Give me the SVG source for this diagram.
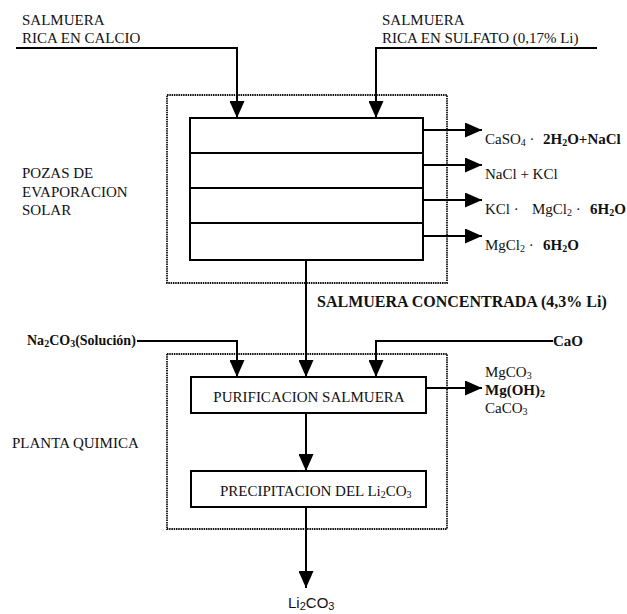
<svg xmlns="http://www.w3.org/2000/svg" width="627" height="614" viewBox="0 0 627 614">
<style>
text{font-family:"Liberation Serif","Times New Roman",serif;font-size:15px;fill:#111}
.b{font-weight:bold}
.sub{font-size:10px;baseline-shift:-20%}
.sans{font-family:"Liberation Sans",Arial,sans-serif}
.ln{fill:none;stroke:#000;stroke-width:2}
.box{fill:#fff;stroke:#000;stroke-width:2}
.dot{fill:none;stroke:#111;stroke-width:1.8;stroke-dasharray:1.5 0.8}
</style>
<defs>
<marker id="ah" markerUnits="userSpaceOnUse" markerWidth="17" markerHeight="15" refX="17" refY="7.5" orient="auto">
<path d="M0,0 L17,7.5 L0,15 z" fill="#000"/>
</marker>
</defs>

<g id="area-pozas">
<rect class="dot" x="167" y="95" width="280" height="188"/>
<text x="22" y="178">POZAS DE</text>
<text x="22" y="197">EVAPORACION</text>
<text x="22" y="215">SOLAR</text>
</g>
<g id="area-planta">
<rect class="dot" x="167" y="354" width="280" height="175"/>
<text x="12" y="448">PLANTA QUIMICA</text>
</g>

<g id="input-calcio">
<text x="22" y="25">SALMUERA</text>
<text x="22" y="43">RICA EN CALCIO</text>
</g>
<g id="input-sulfato">
<text x="382" y="25">SALMUERA</text>
<text x="382" y="43">RICA EN SULFATO (0,17% Li)</text>
</g>

<g id="pozas">
<rect class="box" x="190" y="118" width="233" height="142"/>
<line class="ln" x1="190" y1="153" x2="423" y2="153"/>
<line class="ln" x1="190" y1="188" x2="423" y2="188"/>
<line class="ln" x1="190" y1="223" x2="423" y2="223"/>
</g>

<g id="out1"><text x="485" y="144">CaSO<tspan class="sub">4</tspan><tspan> · </tspan><tspan class="b" x="543">2H<tspan class="sub">2</tspan><tspan>O+NaCl</tspan></tspan></text></g>
<g id="out2"><text x="485" y="179">NaCl + KCl</text></g>
<g id="out3"><text x="485" y="214">KCl · <tspan x="532">MgCl</tspan><tspan class="sub">2</tspan><tspan> · </tspan><tspan class="b" x="590">6H<tspan class="sub">2</tspan><tspan>O</tspan></tspan></text></g>
<g id="out4"><text x="485" y="250">MgCl<tspan class="sub">2</tspan><tspan> · </tspan><tspan class="b" x="543">6H<tspan class="sub">2</tspan><tspan>O</tspan></tspan></text></g>

<g id="concentrada"><text class="b" x="317" y="307" style="font-size:16px">SALMUERA CONCENTRADA (4,3% Li)</text></g>

<g id="na2co3"><text class="b" x="27" y="345" style="font-size:14px">Na<tspan class="sub">2</tspan><tspan>CO</tspan><tspan class="sub">3</tspan><tspan>(Solución)</tspan></text></g>
<g id="cao"><text class="b" x="553" y="346">CaO</text></g>

<g id="purificacion">
<rect class="box" x="191" y="377" width="235" height="36"/>
<text x="309" y="402" text-anchor="middle">PURIFICACION SALMUERA</text>
</g>
<g id="residuos">
<text x="485" y="377">MgCO<tspan class="sub">3</tspan></text>
<text class="b" x="485" y="395">Mg(OH)<tspan class="sub">2</tspan></text>
<text x="485" y="413">CaCO<tspan class="sub">3</tspan></text>
</g>

<g id="precipitacion">
<rect class="box" x="191" y="471" width="235" height="36"/>
<text x="220" y="496">PRECIPITACION DEL Li<tspan class="sub">2</tspan><tspan>CO</tspan><tspan class="sub">3</tspan></text>
</g>

<g id="producto"><text class="sans" x="288" y="608">Li<tspan class="sub" style="font-size:11px">2</tspan><tspan>CO</tspan><tspan class="sub" style="font-size:11px">3</tspan></text></g>

<g id="connectors">
<polyline class="ln" points="16,48 237,48 237,118" marker-end="url(#ah)"/>
<polyline class="ln" points="597,48 376,48 376,118" marker-end="url(#ah)"/>
<line class="ln" x1="423" y1="130" x2="482" y2="130" marker-end="url(#ah)"/>
<line class="ln" x1="423" y1="165" x2="482" y2="165" marker-end="url(#ah)"/>
<line class="ln" x1="423" y1="200" x2="482" y2="200" marker-end="url(#ah)"/>
<line class="ln" x1="423" y1="236" x2="482" y2="236" marker-end="url(#ah)"/>
<line class="ln" x1="306" y1="260" x2="306" y2="377" marker-end="url(#ah)"/>
<polyline class="ln" points="137,341 237,341 237,377" marker-end="url(#ah)"/>
<polyline class="ln" points="553,341 376,341 376,377" marker-end="url(#ah)"/>
<line class="ln" x1="426" y1="388" x2="482" y2="388" marker-end="url(#ah)"/>
<line class="ln" x1="306" y1="413" x2="306" y2="471" marker-end="url(#ah)"/>
<line class="ln" x1="306" y1="507" x2="306" y2="588" marker-end="url(#ah)"/>
</g>
</svg>
